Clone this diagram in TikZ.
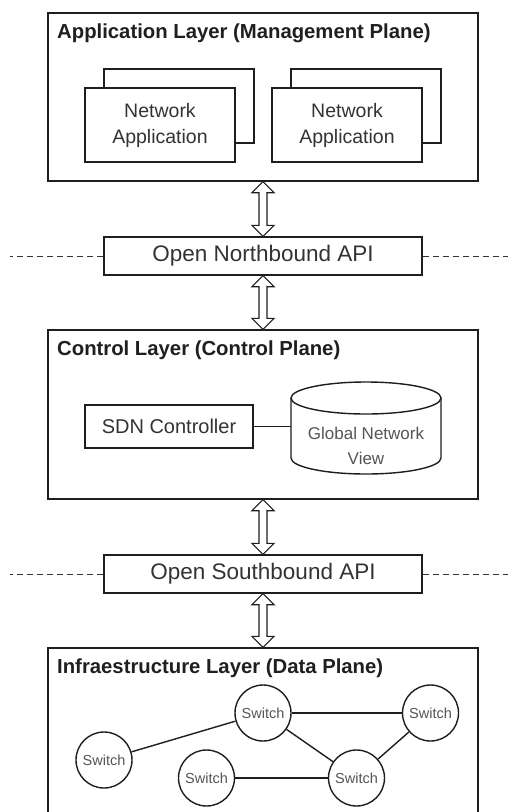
\documentclass[tikz,border=0pt]{standalone}
\usepackage{fontspec}
\setmainfont{Liberation Sans}
\usetikzlibrary{calc}

\definecolor{linec}{HTML}{1E1E1E}
\definecolor{textc}{HTML}{333333}
\definecolor{softtext}{HTML}{555555}

\tikzset{
  layerbox/.style={draw=linec, line width=1.4pt, fill=white, rectangle,
    minimum width=430pt, inner sep=0pt},
  titletext/.style={anchor=base west, inner sep=0pt, text=black!88,
    font=\fontsize{20.3}{24}\selectfont\bfseries},
  appbox/.style={draw=linec, line width=1.4pt, fill=white, rectangle,
    minimum width=150pt, minimum height=74pt, inner sep=0pt, align=center,
    text=textc, font=\fontsize{19.5}{26}\selectfont},
  apibox/.style={draw=linec, line width=1.4pt, fill=white, rectangle,
    minimum width=318pt, minimum height=38pt, inner sep=0pt, text=textc,
    font=\fontsize{22.5}{26}\selectfont},
  ctrlbox/.style={draw=linec, line width=1.4pt, fill=white, rectangle,
    minimum width=168pt, minimum height=43pt, inner sep=0pt, text=textc,
    font=\fontsize{20}{24}\selectfont},
  switchnode/.style={draw=linec, line width=1.4pt, fill=white, circle,
    minimum size=56pt, inner sep=0pt, text=softtext,
    font=\fontsize{14.5}{17}\selectfont},
  link/.style={draw=linec, line width=1.4pt},
  dashline/.style={draw=textc, line width=1pt, dash pattern=on 6pt off 4pt},
  flexarrowstyle/.style={draw=linec, line width=1.1pt, fill=white, line join=miter},
}

% hollow double-headed block arrow between the bottom of one node and the top of another
\newcommand\flexarrow[2]{%
  \path[flexarrowstyle] let \p1=(#1.south), \p2=(#2.north) in
    (\x1,\y1) -- (\x1+11pt,\y1-11pt) -- (\x1+4pt,\y1-11pt) -- (\x1+4pt,\y2+11pt)
    -- (\x1+11pt,\y2+11pt) -- (\x1,\y2) -- (\x1-11pt,\y2+11pt) -- (\x1-4pt,\y2+11pt)
    -- (\x1-4pt,\y1-11pt) -- (\x1-11pt,\y1-11pt) -- cycle;}

\begin{document}
\begin{tikzpicture}[x=1pt,y=-1pt]
  \useasboundingbox (0,0) rectangle (510,812);
  \fill[white] (0,0) rectangle (510,812);
  \clip (0,0) rectangle (510,812);

  % ---------- application layer ----------
  \node[layerbox, minimum height=168pt] (app) at (263,97) {};
  \node[titletext] (apptitle) at (57,38) {Application Layer (Management Plane)};
  \node[appbox] (appAback) at (179,106) {};
  \node[appbox] (appA) at (160,125) {Network\\Application};
  \node[appbox] (appBback) at (366,106) {};
  \node[appbox] (appB) at (347,125) {Network\\Application};

  % ---------- northbound API ----------
  \node[apibox] (nb) at (263,256) {Open Northbound API};
  \coordinate (nbleft) at (10,256);
  \coordinate (nbright) at (508,256);
  \draw[dashline] (nb.west) -- (nbleft);
  \draw[dashline] (nb.east) -- (nbright);

  % ---------- control layer ----------
  \node[layerbox, minimum height=169pt] (ctrl) at (263,414.5) {};
  \node[titletext] (ctrltitle) at (57,355.5) {Control Layer (Control Plane)};
  \node[ctrlbox] (sdn) at (169,426.5) {SDN Controller};

  % global network view drawn as a cylinder
  \node[rectangle, minimum width=150pt, minimum height=92pt, inner sep=0pt] (gnv) at (366,428) {};
  \filldraw[draw=linec, fill=white, line width=1.4pt]
    (291,398) -- (291,458)
    .. controls (291,466.84) and (324.58,474) .. (366,474)
    .. controls (407.42,474) and (441,466.84) .. (441,458)
    -- (441,398);
  \filldraw[draw=linec, fill=white, line width=1.4pt] (366,398) ellipse [x radius=75, y radius=16];
  \node[align=center, text=softtext, inner sep=0pt,
        font=\fontsize{17}{25}\selectfont] (gnvtext) at (366,446) {Global Network\\View};
  \draw[link] (sdn.east) -- (sdn.east -| gnv.west);

  % ---------- southbound API ----------
  \node[apibox] (sb) at (263,574) {Open Southbound API};
  \coordinate (sbleft) at (10,574);
  \coordinate (sbright) at (508,574);
  \draw[dashline] (sb.west) -- (sbleft);
  \draw[dashline] (sb.east) -- (sbright);

  % ---------- infrastructure layer ----------
  \node[layerbox, minimum height=182pt] (infra) at (263,739) {};
  \node[titletext] (infratitle) at (57,673) {Infraestructure Layer (Data Plane)};

  \node[switchnode] (s1) at (263,713) {Switch};
  \node[switchnode] (s2) at (430.5,713) {Switch};
  \node[switchnode] (s3) at (104,760) {Switch};
  \node[switchnode] (s4) at (206.5,778) {Switch};
  \node[switchnode] (s5) at (356.5,778) {Switch};
  \draw[link] (s1) -- (s2);
  \draw[link] (s1) -- (s3);
  \draw[link] (s1) -- (s5);
  \draw[link] (s2) -- (s5);
  \draw[link] (s4) -- (s5);

  % ---------- arrows between the layers ----------
  \flexarrow{app}{nb}
  \flexarrow{nb}{ctrl}
  \flexarrow{ctrl}{sb}
  \flexarrow{sb}{infra}
\end{tikzpicture}
\end{document}
